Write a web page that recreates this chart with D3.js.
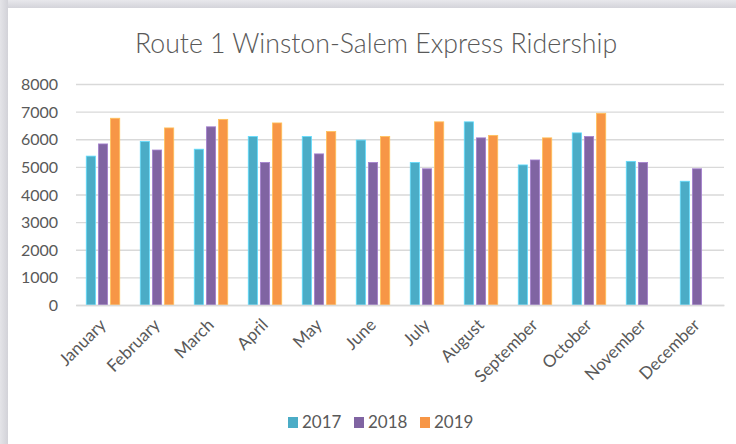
<!DOCTYPE html>
<html>
<head>
<meta charset="utf-8">
<script src="https://cdn.jsdelivr.net/npm/d3@7"></script>
<style>
  html, body { margin: 0; padding: 0; background: #fff; }
  svg { display: block; }
  text { font-family: Lato, "Open Sans", sans-serif; fill: #595959; }
</style>
</head>
<body>
<svg id="chart" width="736" height="444"></svg>
<script>
// Monthly ridership, Route 1 Winston-Salem Express
const months = ["January", "February", "March", "April", "May", "June",
                "July", "August", "September", "October", "November", "December"];
const years = ["2017", "2018", "2019"];
const riders2017 = [5390, 5920, 5640, 6100, 6100, 5970, 5160, 6630, 5070, 6230, 5200, 4480];
const riders2018 = [5830, 5610, 6450, 5160, 5470, 5160, 4930, 6050, 5250, 6100, 5160, 4930];
const riders2019 = [6760, 6410, 6720, 6590, 6280, 6100, 6630, 6140, 6050, 6940, null, null];
const yTicks = [0, 1000, 2000, 3000, 4000, 5000, 6000, 7000, 8000];
const colors = ["#4BACC6", "#8064A2", "#F79646"];
const titleText = "Route 1 Winston-Salem Express Ridership";

const seriesByYear = [riders2017, riders2018, riders2019];
const rows = months.map((m, i) => ({
  month: m,
  values: years.map((y, j) => ({ year: y, value: seriesByYear[j][i], idx: j }))
}));

const W = 736, H = 444;
const svg = d3.select("#chart");

// card with soft shadow on the top and left
const defs = svg.append("defs");
const gl = defs.append("linearGradient").attr("id", "shadeLeft").attr("x1", 0).attr("x2", 1);
gl.append("stop").attr("offset", 0).attr("stop-color", "#e4e4e8");
gl.append("stop").attr("offset", 1).attr("stop-color", "#d2d2d8");
const gt = defs.append("linearGradient").attr("id", "shadeTop").attr("x1", 0).attr("x2", 0).attr("y1", 0).attr("y2", 1);
gt.append("stop").attr("offset", 0).attr("stop-color", "#e8e8ec");
gt.append("stop").attr("offset", 1).attr("stop-color", "#d4d4da");
svg.append("rect").attr("x", 0).attr("y", 0).attr("width", W).attr("height", 8).attr("fill", "url(#shadeTop)");
svg.append("rect").attr("x", 0).attr("y", 0).attr("width", 8).attr("height", H).attr("fill", "url(#shadeLeft)");
svg.append("rect").attr("x", 8).attr("y", 8).attr("width", W - 8).attr("height", H - 8).attr("fill", "#fff");

const margin = { left: 76, right: 12, top: 84, bottom: 139 };
const plotW = W - margin.left - margin.right;
const plotH = H - margin.top - margin.bottom;

const x0 = d3.scaleBand().domain(months).range([margin.left, margin.left + plotW])
  .paddingInner(0.38).paddingOuter(0.19);
const x1 = d3.scaleBand().domain(years).range([0, x0.bandwidth()]).paddingInner(0.24);
const y = d3.scaleLinear().domain([0, 8000]).range([margin.top + plotH, margin.top]);

// title
svg.append("text")
  .attr("x", 376).attr("y", 53)
  .attr("text-anchor", "middle")
  .style("font-size", "26.7px").style("font-weight", 300)
  .text(titleText);

// gridlines and value axis
const yAxis = d3.axisLeft(y).tickValues(yTicks).tickSize(-plotW).tickFormat(d3.format("d"));
const gy = svg.append("g").attr("transform", `translate(${margin.left},0)`).call(yAxis);
gy.select(".domain").remove();
gy.selectAll(".tick line").attr("stroke", "#d9d9d9").attr("stroke-width", 1.3);
gy.selectAll(".tick text").attr("x", -18).attr("dy", "0.35em")
  .style("font-size", "16px").style("fill", "#595959");

// bars
const groups = svg.append("g").selectAll("g").data(rows).join("g")
  .attr("transform", d => `translate(${x0(d.month)},0)`);
groups.selectAll("rect")
  .data(d => d.values.filter(v => v.value != null))
  .join("rect")
  .attr("x", d => x1(d.year))
  .attr("width", x1.bandwidth())
  .attr("y", d => y(d.value))
  .attr("height", d => y(0) - y(d.value))
  .attr("fill", d => colors[d.idx])
  .attr("stroke", d => d3.color(colors[d.idx]).brighter(0.7))
  .attr("stroke-width", 0.8);

// category axis
const xAxis = d3.axisBottom(x0).tickSize(0);
const gx = svg.append("g").attr("transform", `translate(0,${y(0)})`).call(xAxis);
gx.select(".domain").attr("stroke", "#d9d9d9").attr("stroke-width", 1.3);
gx.selectAll(".tick text")
  .attr("text-anchor", "end")
  .attr("dy", 0).attr("y", 0)
  .attr("transform", "translate(4,21) rotate(-45)")
  .style("font-size", "17px").style("fill", "#595959");

// legend
const legend = svg.append("g").attr("transform", "translate(288,417)");
const item = legend.selectAll("g").data(years).join("g")
  .attr("transform", (d, i) => `translate(${i * 66},0)`);
item.append("rect").attr("width", 10).attr("height", 11).attr("fill", (d, i) => colors[i]);
item.append("text").attr("x", 14).attr("y", 11).style("font-size", "17px").text(d => d);
</script>
</body>
</html>
